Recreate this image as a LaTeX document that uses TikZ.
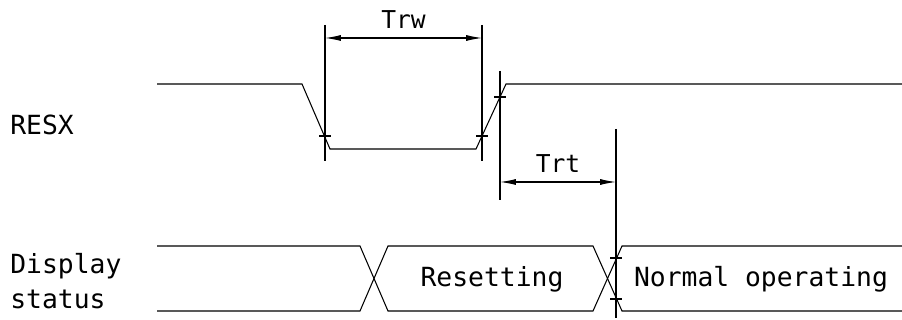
\documentclass[tikz,border=0pt]{standalone}
\usepackage{fontspec}
\setmonofont{DejaVu Sans Mono}
\usetikzlibrary{arrows.meta, positioning}

\begin{document}
\begin{tikzpicture}[
  x=0.02cm, y=-0.02cm,
  wave/.style={line width=0.6pt, line join=miter},
  guide/.style={line width=0.6pt},
  tickmark/.style={line width=0.6pt},
  dim/.style={{Latex[length=9pt,width=3.4pt]}-{Latex[length=9pt,width=3.4pt]}, line width=0.6pt},
  lbl/.style={font=\ttfamily\fontsize{15}{20}\selectfont, inner sep=0pt},
  dimlbl/.style={font=\ttfamily\fontsize{14}{16}\selectfont, inner sep=0pt}
]
\useasboundingbox (0,0) rectangle (902,320);

% signal names
\node[lbl, anchor=west] (resx) at (10,125) {RESX};
\node[lbl, anchor=west, align=left] (disp) at (10,281) {Display\\status};

% RESX waveform
\coordinate (fallT) at (302,84);
\coordinate (fallB) at (330,149);
\coordinate (riseB) at (476,149);
\coordinate (riseT) at (506,84);
\draw[wave] (157,84) -- (fallT) -- (fallB) -- (riseB) -- (riseT) -- (902,84);

% display status waveform
\draw[wave] (157,246) -- (360,246) -- (388,311) -- (593,311) -- (622,246) -- (902,246);
\draw[wave] (157,311) -- (360,311) -- (388,246) -- (593,246) -- (622,311) -- (902,311);
\node[lbl] (reset) at (492,279) {Resetting};
\node[lbl] (normal) at (761,279) {Normal operating};

% guide lines
\coordinate (g1t) at (325,25);  \coordinate (g1b) at (325,161);
\coordinate (g2t) at (482,25);  \coordinate (g2b) at (482,161);
\coordinate (g3t) at (500,71);  \coordinate (g3b) at (500,200);
\coordinate (g4t) at (616,129); \coordinate (g4b) at (616,318);
\draw[guide] (g1t) -- (g1b);
\draw[guide] (g2t) -- (g2b);
\draw[guide] (g3t) -- (g3b);
\draw[guide] (g4t) -- (g4b);

% crossing marks
\foreach \p in {(325,136),(482,136),(500,97),(616,258),(616,299)}
  \draw[tickmark] \p ++(-6,0) -- ++(12,0);

% timing dimensions
\coordinate (trwL) at (325,38);
\coordinate (trwR) at (482,38);
\draw[dim] (trwL) -- node[dimlbl, above=5pt] (trw) {Trw} (trwR);
\coordinate (trtL) at (500,182);
\coordinate (trtR) at (616,182);
\draw[dim] (trtL) -- node[dimlbl, above=5pt] (trt) {Trt} (trtR);
\end{tikzpicture}
\end{document}
